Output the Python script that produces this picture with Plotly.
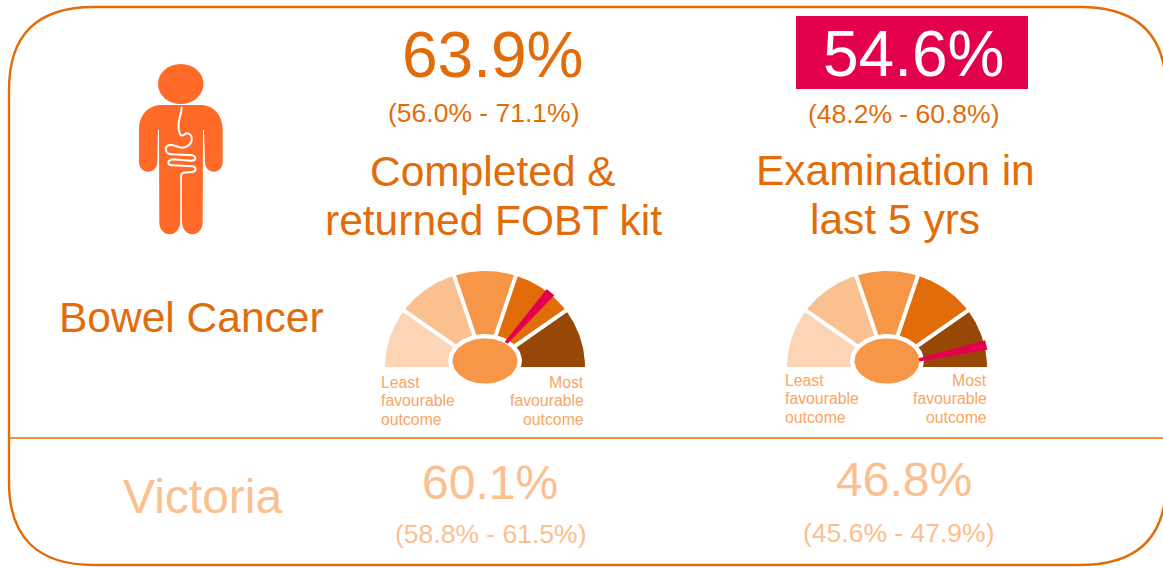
import math
import plotly.graph_objects as go

# ---- data ----
gauge_centres = [485, 887]
gauge_baseline = [367, 367]
band_edges_deg = [0, 36, 72, 108, 144, 180]
band_colours = ["#FBD5B5", "#FAC090", "#F79646", "#E36C0A", "#974806"]
needle_deg = [130, 167]
headline_values = ["63.9%", "54.6%"]
headline_ranges = ["(56.0% - 71.1%)", "(48.2% - 60.8%)"]
indicator_labels = [["Completed &", "returned FOBT kit"], ["Examination in", "last 5 yrs"]]
state_values = ["60.1%", "46.8%"]
state_ranges = ["(58.8% - 61.5%)", "(45.6% - 47.9%)"]

ORANGE = "#E36C0A"
PALE = "#FAC090"
PINK = "#E3004F"
BODY = "#FF6A28"
FONT = "Liberation Sans"
W, H = 1163, 568
RX, RY = 100, 96


def polar(cx, cy, deg, frac=1.0):
    a = math.radians(deg)
    return cx - RX * frac * math.cos(a), cy - RY * frac * math.sin(a)


fig = go.Figure()


def poly(xs, ys, colour):
    fig.add_trace(go.Scatter(x=xs, y=ys, mode="lines", fill="toself", fillcolor=colour,
                             line=dict(width=0, color=colour), hoverinfo="skip", showlegend=False))


for cx, cy, nd in zip(gauge_centres, gauge_baseline, needle_deg):
    for i, col in enumerate(band_colours):
        a0, a1 = band_edges_deg[i], band_edges_deg[i + 1]
        pts = [polar(cx, cy, a0 + (a1 - a0) * k / 40) for k in range(41)]
        poly([cx] + [p[0] for p in pts] + [cx], [cy] + [p[1] for p in pts] + [cy], col)
    for a in band_edges_deg[1:-1]:
        x1, y1 = polar(cx, cy, a, 1.03)
        fig.add_trace(go.Scatter(x=[cx, x1], y=[cy, y1], mode="lines",
                                 line=dict(color="white", width=4), hoverinfo="skip", showlegend=False))
    hy = cy - 6
    ring = [(cx + 37 * math.cos(t * math.pi / 40), hy + 27 * math.sin(t * math.pi / 40)) for t in range(81)]
    poly([p[0] for p in ring], [p[1] for p in ring], "white")
    hub = [(cx + 32.5 * math.cos(t * math.pi / 40), hy + 22.5 * math.sin(t * math.pi / 40)) for t in range(81)]
    poly([p[0] for p in hub], [p[1] for p in hub], "#F79646")
    s0 = polar(cx, cy, nd - 3.0, 0.33)
    s1 = polar(cx, cy, nd + 3.0, 0.33)
    t0 = polar(cx, cy, nd - 2.8, 1.02)
    t1 = polar(cx, cy, nd + 2.8, 1.02)
    poly([s0[0], t0[0], t1[0], s1[0], s0[0]], [s0[1], t0[1], t1[1], s1[1], s0[1]], PINK)


def txt(x, y, s, size, colour, anchor="center"):
    fig.add_annotation(x=x, y=y, text=s, xref="x", yref="y", showarrow=False, xanchor=anchor,
                       yanchor="middle", font=dict(family=FONT, size=size, color=colour))


def z(x, y):
    return f"{120 + x / 3:.1f},{50 + y / 3:.1f}"


body = ("M" + z(118, 165) + " L" + z(248, 165) +
        " C" + z(290, 170) + " " + z(308, 205) + " " + z(308, 240) +
        " L" + z(308, 335) + " C" + z(308, 375) + " " + z(255, 375) + " " + z(255, 335) +
        " L" + z(252, 240) + " L" + z(249, 240) + " L" + z(248, 515) +
        " C" + z(248, 565) + " " + z(187, 565) + " " + z(186, 515) +
        " L" + z(186, 380) + " L" + z(181, 380) + " L" + z(181, 515) +
        " C" + z(180, 565) + " " + z(118, 565) + " " + z(118, 515) +
        " L" + z(117, 240) + " L" + z(114, 240) + " L" + z(112, 335) +
        " C" + z(112, 375) + " " + z(57, 375) + " " + z(57, 335) +
        " L" + z(57, 240) + " C" + z(57, 205) + " " + z(75, 170) + " " + z(118, 165) + " Z")
gut = ("M" + z(185, 170) + " C" + z(185, 200) + " " + z(168, 215) + " " + z(178, 245) +
       " C" + z(180, 262) + " " + z(190, 258) + " " + z(198, 250) +
       " C" + z(222, 250) + " " + z(222, 282) + " " + z(195, 292) +
       " C" + z(175, 298) + " " + z(165, 282) + " " + z(148, 285) +
       " C" + z(132, 290) + " " + z(135, 312) + " " + z(155, 313) +
       " L" + z(218, 316) + " C" + z(230, 322) + " " + z(228, 332) + " " + z(215, 332) +
       " L" + z(155, 328) + " C" + z(142, 332) + " " + z(142, 345) + " " + z(155, 346) +
       " L" + z(218, 349) + " C" + z(232, 352) + " " + z(228, 366) + " " + z(215, 366) +
       " L" + z(190, 368) + " C" + z(183, 370) + " " + z(183, 375) + " " + z(183, 382))

shapes = [
    dict(type="path", path="M94,7 L1080,7 Q1166,7 1166,90 L1166,482 Q1166,565 1080,565 L94,565 Q9,565 9,482 L9,90 Q9,7 94,7 Z",
         line=dict(color=ORANGE, width=2.4), fillcolor="rgba(0,0,0,0)", layer="below"),
    dict(type="line", x0=10, x1=1163, y0=438, y1=438, line=dict(color=ORANGE, width=1.5), layer="below"),
    dict(type="rect", x0=796, x1=1028, y0=16, y1=89, fillcolor=PINK, line=dict(width=0), layer="below"),
    dict(type="circle", x0=158, x1=203.5, y0=64, y1=104, fillcolor=BODY, line=dict(width=0), layer="below"),
    dict(type="path", path=body, fillcolor=BODY, line=dict(width=0), layer="below"),
    dict(type="path", path=gut, fillcolor="rgba(0,0,0,0)", line=dict(color="white", width=2), layer="below"),
]

txt(492, 55, headline_values[0], 64, ORANGE)
txt(913, 54, headline_values[1], 64, "white")
txt(483, 113, headline_ranges[0], 26.5, ORANGE)
txt(903, 114, headline_ranges[1], 26.5, ORANGE)
txt(493, 171, indicator_labels[0][0], 42.5, ORANGE)
txt(493, 220, indicator_labels[0][1], 42.5, ORANGE)
txt(895, 170, indicator_labels[1][0], 42.5, ORANGE)
txt(895, 219, indicator_labels[1][1], 42.5, ORANGE)
txt(191, 317, "Bowel Cancer", 42.5, ORANGE)
txt(202, 496, "Victoria", 48, PALE)
txt(490, 482, state_values[0], 48, PALE)
txt(904, 479, state_values[1], 48, PALE)
txt(490, 534, state_ranges[0], 26.5, PALE)
txt(898, 533, state_ranges[1], 26.5, PALE)

LBL = "#F9A564"
for left, right, base in [(379, 586, 382), (783, 989, 380)]:
    for i, s in enumerate(["Least", "favourable", "outcome"]):
        txt(left, base + i * 18.7, s, 15.8, LBL, "left")
    for i, s in enumerate(["Most", "favourable", "outcome"]):
        txt(right, base + i * 18.7, s, 15.8, LBL, "right")

fig.update_layout(
    width=W, height=H, autosize=False, margin=dict(l=0, r=0, t=0, b=0),
    paper_bgcolor="white", plot_bgcolor="white", shapes=shapes, showlegend=False,
    xaxis=dict(range=[0, W], visible=False, fixedrange=True),
    yaxis=dict(range=[H, 0], visible=False, fixedrange=True),
)
fig.write_html("out.html", config=dict(displayModeBar=False),
               post_script="document.body.style.margin='0';document.body.style.overflow='hidden';")
